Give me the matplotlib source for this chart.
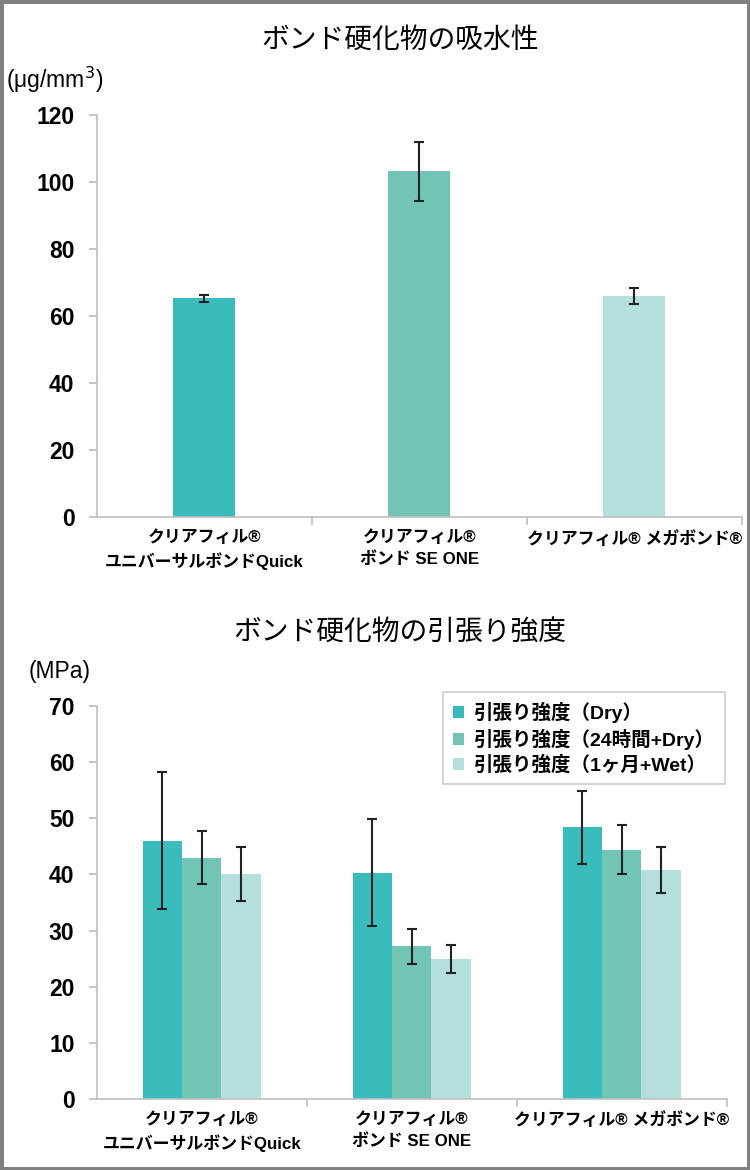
import matplotlib
matplotlib.use("Agg")
import matplotlib.pyplot as plt
import numpy as np
from matplotlib.patches import Rectangle

plt.rcParams['font.family'] = ['Liberation Sans', 'Noto Sans CJK JP', 'DejaVu Sans']

categories = ['クリアフィル®\nユニバーサルボンドQuick', 'クリアフィル®\nボンド SE ONE', 'クリアフィル® メガボンド®']
colors = ['#3bbcbc', '#72c5b5', '#b5dfdd']

# water absorption (ug/mm3)
absorb = [65.3, 103.2, 65.9]
absorb_err = [1.0, 8.7, 2.4]

# tensile strength (MPa)
series = ['引張り強度（Dry）', '引張り強度（24時間+Dry）', '引張り強度（1ヶ月+Wet）']
dry = [46.0, 40.3, 48.4]
dry_err = [12.2, 9.5, 6.5]
h24 = [43.0, 27.2, 44.4]
h24_err = [4.7, 3.1, 4.4]
wet = [40.0, 25.0, 40.8]
wet_err = [4.8, 2.5, 4.1]

fig = plt.figure(figsize=(7.5, 11.7), dpi=100)
fig.patches.append(Rectangle((0, 0), 1, 1, transform=fig.transFigure, fill=False,
                             edgecolor='#808080', linewidth=5))

def style(ax):
    for s in ['top', 'right']:
        ax.spines[s].set_visible(False)
    for s in ['left', 'bottom']:
        ax.spines[s].set_color('#bfbfbf')
        ax.spines[s].set_linewidth(1.2)
    ax.tick_params(axis='y', colors='#bfbfbf', length=6, width=1.2, labelcolor='black',
                   labelsize=16.5, pad=10)
    ax.tick_params(axis='x', length=0, pad=9)
    for t in ax.get_yticklabels():
        t.set_fontweight('bold')

x = np.arange(3)
jp = ['Noto Sans CJK JP', 'DejaVu Sans']
lat = ['Liberation Sans', 'Noto Sans CJK JP']
ekw = dict(ecolor='#222222', elinewidth=1.5, capthick=1.5)

# top chart
ax1 = fig.add_axes([0.129, 0.558, 0.860, 0.3436])
ax1.bar(x, absorb, width=0.29, color=colors, yerr=absorb_err, capsize=3.5, error_kw=ekw)
ax1.set_xlim(-0.5, 2.5)
ax1.set_ylim(0, 120)
ax1.set_yticks(range(0, 121, 20))
ax1.set_xticks(x)
ax1.set_xticklabels(categories, fontsize=12.2, fontweight='bold', family=lat, linespacing=1.45,
                    va='top')
ax1.set_xticks([0.5, 1.5, 2.5], minor=True)
ax1.tick_params(axis='x', which='minor', length=6, colors='#bfbfbf', width=1.2)
style(ax1)
fig.text(0.533, 0.966, 'ボンド硬化物の吸水性', ha='center', va='center', fontsize=20, family=jp)
fig.text(0.008, 0.932, '(μg/mm$^3$)', ha='left', va='center', fontsize=16.5)

# bottom chart
ax2 = fig.add_axes([0.129, 0.0607, 0.840, 0.3359])
w = 0.187
ax2.bar(x - w, dry, w, color=colors[0], label=series[0], yerr=dry_err, capsize=3.5, error_kw=ekw)
ax2.bar(x, h24, w, color=colors[1], label=series[1], yerr=h24_err, capsize=3.5, error_kw=ekw)
ax2.bar(x + w, wet, w, color=colors[2], label=series[2], yerr=wet_err, capsize=3.5, error_kw=ekw)
ax2.set_xlim(-0.5, 2.5)
ax2.set_ylim(0, 70)
ax2.set_yticks(range(0, 71, 10))
ax2.set_xticks(x)
ax2.set_xticklabels(categories, fontsize=12.2, fontweight='bold', family=lat, linespacing=1.45,
                    va='top')
ax2.set_xticks([0.5, 1.5, 2.5], minor=True)
ax2.tick_params(axis='x', which='minor', length=6, colors='#bfbfbf', width=1.2)
style(ax2)
leg = ax2.legend(loc='upper right', bbox_to_anchor=(0.997, 1.036), borderaxespad=0,
                 prop=dict(family=lat, weight='bold', size=14),
                 handlelength=0.6, handleheight=0.6, handletextpad=0.5, labelspacing=0.3,
                 fancybox=False, edgecolor='#bfbfbf', borderpad=0.5)
leg.get_frame().set_linewidth(1.2)
fig.text(0.533, 0.46, 'ボンド硬化物の引張り強度', ha='center', va='center', fontsize=20, family=jp)
fig.text(0.038, 0.426, '(MPa)', ha='left', va='center', fontsize=16.5)

fig.savefig('out.png', dpi=100)
